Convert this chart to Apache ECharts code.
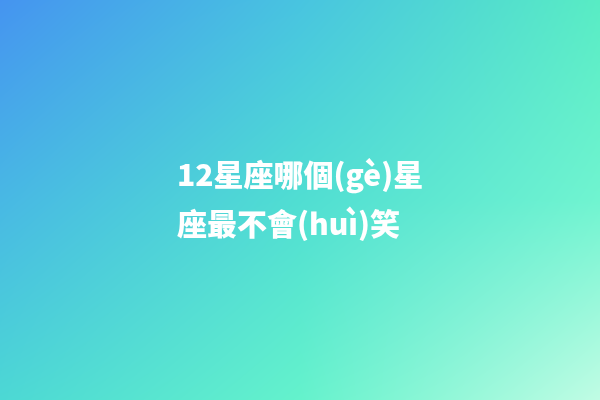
<!DOCTYPE html>
<html>
<head>
<meta charset="utf-8">
<script src="https://cdn.jsdelivr.net/npm/echarts@6/dist/echarts.min.js"></script>
<style>html,body{margin:0;padding:0;}#c{width:600px;height:400px;}</style>
</head>
<body>
<div id="c"></div>
<script>
var titleLines = ['12星座哪個(gè)星', '座最不會(huì)笑'];
// 3x3 grid of background colours (rows top→bottom, cols left→right)
var bgTop = [[69,148,240],[72,196,224],[88,236,196]];
var bgMid = [[72,184,228],[80,222,210],[112,244,208]];
var bgBot = [[76,216,212],[100,242,204],[192,252,228]];

var W = 600, H = 400;
var cv = document.createElement('canvas');
cv.width = W; cv.height = H;
var ctx = cv.getContext('2d');
var img = ctx.createImageData(W, H);
var grid = [bgTop, bgMid, bgBot];
function lerp(a,b,t){return a+(b-a)*t;}
for (var y=0;y<H;y++){
  var fy = y/(H-1)*2, iy = Math.min(1, Math.floor(fy)), ty = fy-iy;
  for (var x=0;x<W;x++){
    var fx = x/(W-1)*2, ix = Math.min(1, Math.floor(fx)), tx = fx-ix;
    var o = (y*W+x)*4;
    for (var k=0;k<3;k++){
      var a = lerp(grid[iy][ix][k], grid[iy][ix+1][k], tx);
      var b = lerp(grid[iy+1][ix][k], grid[iy+1][ix+1][k], tx);
      img.data[o+k] = Math.round(lerp(a,b,ty));
    }
    img.data[o+3] = 255;
  }
}
ctx.putImageData(img,0,0);

var chart = echarts.init(document.getElementById('c'));
var elements = [{
  type:'image', left:0, top:0, z:0,
  style:{image:cv, width:W, height:H}
}];
titleLines.forEach(function(t,i){
  elements.push({
    type:'text', z:10,
    x:177, y:175 + i*49,
    style:{
      text:t, fill:'#ffffff',
      font:'900 30px "Noto Sans CJK TC", "Noto Sans CJK SC", sans-serif',
      textAlign:'left', textVerticalAlign:'middle'
    }
  });
});
chart.setOption({
  animation:false,
  graphic:{elements:elements}
});
</script>
</body>
</html>
